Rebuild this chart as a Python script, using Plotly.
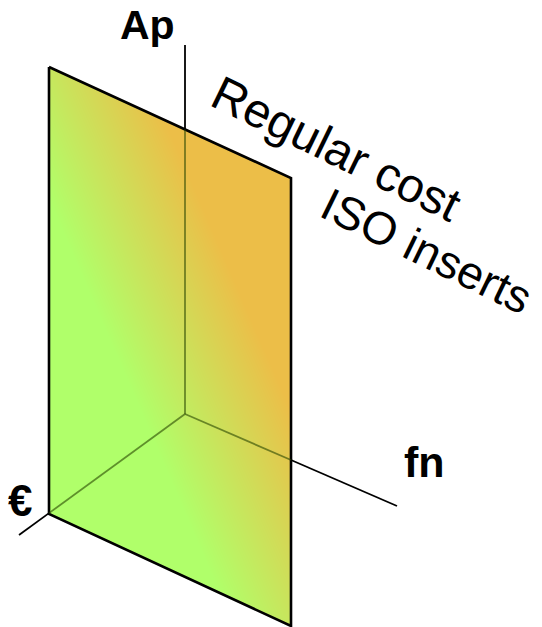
import numpy as np
import plotly.graph_objects as go

W, H = 542, 627

# ---- diagram geometry (pixel space, y grows downward) ----
plane_x = [49, 291, 291, 49]          # TL, TR, BR, BL
plane_y = [67, 178, 626, 514]
origin_x, origin_y = 185, 414
axis_end_x = [185, 397, 19]           # Ap, fn, €
axis_end_y = [45, 506, 535]

label_text = ["Ap", "fn", "€"]
label_x = [147, 424, 20]
label_y = [25, 462, 500]
label_size = [41, 43, 44]

note_text = ["Regular cost", "ISO inserts"]
note_x = [336, 427]
note_y = [148, 251]
note_angle = 26
note_size = [48, 46]

green = (176, 255, 106)
orange = (236, 190, 72)


def rgb(c):
    return "rgb(%d,%d,%d)" % c


def exit_point(ex, ey):
    """first crossing of segment origin->end with plane boundary"""
    best = 1.0
    n = len(plane_x)
    px, py = origin_x, origin_y
    dx, dy = ex - px, ey - py
    for i in range(n):
        ax, ay = plane_x[i], plane_y[i]
        bx, by = plane_x[(i + 1) % n], plane_y[(i + 1) % n]
        sx, sy = bx - ax, by - ay
        den = dx * sy - dy * sx
        if abs(den) < 1e-9:
            continue
        t = ((ax - px) * sy - (ay - py) * sx) / den
        u = ((ax - px) * dy - (ay - py) * dx) / den
        if 1e-6 < t <= 1 and -1e-6 <= u <= 1 + 1e-6:
            best = min(best, t)
    return px + best * dx, py + best * dy


fig = go.Figure()

# gradient of the plane (heatmap, masked afterwards)
gx = np.linspace(plane_x[0], plane_x[1], 122)
gy = np.linspace(min(plane_y), max(plane_y), 281)
cx, cy = np.mean(plane_x), np.mean(plane_y)
perp = np.array([plane_x[2] - plane_x[0], plane_y[2] - plane_y[0]], float)
gdir = np.array([perp[1], -perp[0]])
gdir /= np.linalg.norm(gdir)
XX, YY = np.meshgrid(gx, gy)
proj = (XX - cx) * gdir[0] + (YY - cy) * gdir[1]
pmax = abs((plane_x[1] - cx) * gdir[0] + (plane_y[1] - cy) * gdir[1])
zz = 0.5 + proj / (2 * pmax)

fig.add_trace(go.Heatmap(
    x=gx, y=gy, z=zz, zmin=0, zmax=1, zsmooth="best", showscale=False,
    colorscale=[[0, rgb(green)], [0.35, rgb(green)], [0.74, rgb(orange)], [1, rgb(orange)]],
    hoverinfo="skip"))

# white masks outside the parallelogram
fig.add_trace(go.Scatter(
    x=[plane_x[0] - 6, plane_x[1] + 6, plane_x[1] + 6, plane_x[1], plane_x[0], plane_x[0] - 6],
    y=[plane_y[0] - 6, plane_y[0] - 6, plane_y[1], plane_y[1], plane_y[0], plane_y[0]],
    fill="toself", fillcolor="white", line=dict(width=0), mode="lines", hoverinfo="skip"))
fig.add_trace(go.Scatter(
    x=[plane_x[3], plane_x[2], plane_x[2] + 6, plane_x[2] + 6, plane_x[3] - 6, plane_x[3] - 6],
    y=[plane_y[3], plane_y[2], plane_y[2], plane_y[2] + 6, plane_y[2] + 6, plane_y[3]],
    fill="toself", fillcolor="white", line=dict(width=0), mode="lines", hoverinfo="skip"))

shapes = []
for ex, ey in zip(axis_end_x, axis_end_y):
    qx, qy = exit_point(ex, ey)
    # part seen through the translucent plane
    shapes.append(dict(type="line", x0=origin_x, y0=origin_y, x1=qx, y1=qy,
                       xref="x", yref="y", layer="above",
                       line=dict(color="rgba(40,70,0,0.6)", width=1.8)))
    # part outside the plane
    fig.add_trace(go.Scatter(x=[qx, ex], y=[qy, ey], mode="lines",
                             line=dict(color="black", width=1.8), hoverinfo="skip"))

# plane outline
fig.add_trace(go.Scatter(x=plane_x + [plane_x[0]], y=plane_y + [plane_y[0]], mode="lines",
                         line=dict(color="black", width=2.6), hoverinfo="skip"))

ann = []
for t, x, y, s in zip(label_text, label_x, label_y, label_size):
    ann.append(dict(text="<b>%s</b>" % t, x=x, y=y, xref="x", yref="y", showarrow=False,
                    xanchor="center", yanchor="middle",
                    font=dict(family="Liberation Sans, Arial", size=s, color="black")))
for t, x, y, s in zip(note_text, note_x, note_y, note_size):
    ann.append(dict(text=t, x=x, y=y, xref="x", yref="y", showarrow=False, textangle=note_angle,
                    xanchor="center", yanchor="middle",
                    font=dict(family="Liberation Sans, Arial", size=s, color="black")))

fig.update_layout(
    width=W, height=H, margin=dict(l=0, r=0, t=0, b=0),
    paper_bgcolor="white", plot_bgcolor="white", showlegend=False,
    xaxis=dict(range=[0, W], visible=False, fixedrange=True),
    yaxis=dict(range=[H, 0], visible=False, fixedrange=True),
    shapes=shapes, annotations=ann)

fig.write_html("out.html", config={"displayModeBar": False},
               post_script="document.body.style.margin='0';document.body.style.overflow='hidden';")
